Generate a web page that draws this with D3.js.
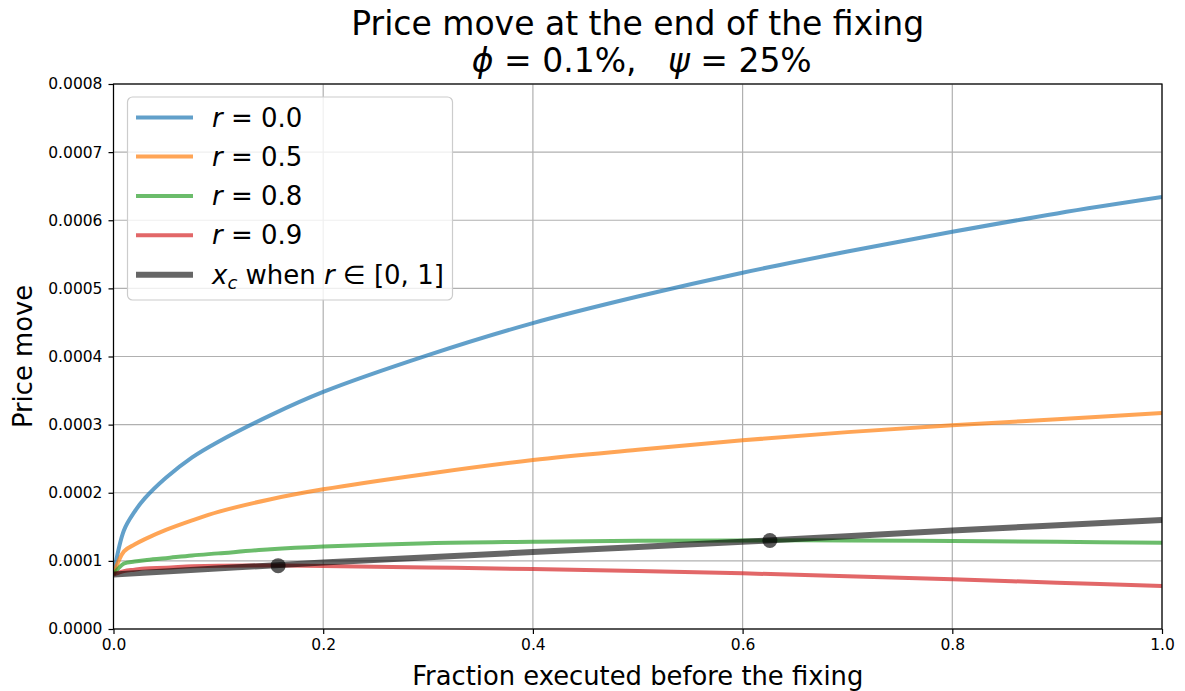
<!DOCTYPE html>
<html>
<head>
<meta charset="utf-8">
<script src="https://cdn.jsdelivr.net/npm/d3@7"></script>
<style>
  html, body { margin: 0; padding: 0; background: #fff; }
  svg { display: block; font-family: "DejaVu Sans", sans-serif; }
  .pre { white-space: pre; }
</style>
</head>
<body>
<svg id="chart" width="1185" height="691"></svg>
<script>
// ---- data ----
const xs      = [0, 0.01, 0.02, 0.03, 0.05, 0.075, 0.1, 0.15, 0.2, 0.3, 0.4, 0.5, 0.6, 0.7, 0.8, 0.9, 1.0];
const r00     = [0.00008, 0.000145, 0.000172, 0.000192, 0.000222, 0.000252, 0.000275, 0.000314, 0.000348, 0.000402, 0.000449, 0.000488, 0.000523, 0.000554, 0.000583, 0.000610, 0.000634];
const r05     = [0.00008, 0.000114, 0.000124, 0.000132, 0.0001455, 0.0001595, 0.000172, 0.0001905, 0.000205, 0.000228, 0.000248, 0.000263, 0.000277, 0.000289, 0.000299, 0.000308, 0.000317];
const r08     = [0.00008, 0.000096, 0.000099, 0.000101, 0.000104, 0.000108, 0.000111, 0.000117, 0.000121, 0.000126, 0.000128, 0.0001295, 0.00013, 0.00013, 0.000129, 0.000128, 0.0001267];
const r09     = [0.00008, 0.000085, 0.000087, 0.000089, 0.00009, 0.000092, 0.000093, 0.0000932, 0.0000925, 0.0000903, 0.000088, 0.0000852, 0.0000817, 0.0000775, 0.000073, 0.000068, 0.0000631];
const xcX     = [0, 0.2, 0.4, 0.6, 0.8, 1.0];
const xcY     = [0.00008, 0.0000975, 0.000113, 0.000128, 0.0001445, 0.00016];
const dotX    = [0.157, 0.626];
const dotY    = [0.000093, 0.000130];
const xTicks  = [0, 0.2, 0.4, 0.6, 0.8, 1.0];
const yTicks  = [0, 0.0001, 0.0002, 0.0003, 0.0004, 0.0005, 0.0006, 0.0007, 0.0008];
const seriesLabels = ["0.0", "0.5", "0.8", "0.9"];
const seriesColors = ["#1f77b4", "#ff7f0e", "#2ca02c", "#d62728"];
const seriesData = [r00, r05, r08, r09];

// ---- layout ----
const L = 113.5, R = 1162, T = 84, B = 629;
const svg = d3.select("#chart");
const x = d3.scaleLinear().domain([0, 1]).range([L, R]);
const y = d3.scaleLinear().domain([0, 0.0008]).range([B, T]);

// grid
const grid = svg.append("g");
grid.selectAll("line.gx").data(xTicks).join("line")
  .attr("x1", d => x(d)).attr("x2", d => x(d)).attr("y1", T).attr("y2", B)
  .attr("stroke", "#b0b0b0").attr("stroke-width", 1.2);
grid.selectAll("line.gy").data(yTicks).join("line")
  .attr("y1", d => y(d)).attr("y2", d => y(d)).attr("x1", L).attr("x2", R)
  .attr("stroke", "#b0b0b0").attr("stroke-width", 1.2);

// clip
svg.append("clipPath").attr("id", "clip").append("rect")
  .attr("x", L).attr("y", T).attr("width", R - L).attr("height", B - T);
const plot = svg.append("g").attr("clip-path", "url(#clip)");

const line = d3.line().x(d => x(d[0])).y(d => y(d[1])).curve(d3.curveCatmullRom.alpha(0.5));

seriesData.forEach((s, i) => {
  plot.append("path")
    .datum(xs.map((xv, j) => [xv, s[j]]))
    .attr("d", line)
    .attr("fill", "none")
    .attr("stroke", seriesColors[i])
    .attr("stroke-opacity", 0.7)
    .attr("stroke-width", 4)
    .attr("stroke-linejoin", "round");
});
plot.append("path")
  .datum(xcX.map((xv, j) => [xv, xcY[j]]))
  .attr("d", line)
  .attr("fill", "none")
  .attr("stroke", "#000")
  .attr("stroke-opacity", 0.6)
  .attr("stroke-width", 6);
plot.selectAll("circle").data(dotX.map((d, i) => [d, dotY[i]])).join("circle")
  .attr("cx", d => x(d[0])).attr("cy", d => y(d[1])).attr("r", 7.5)
  .attr("fill", "#000").attr("fill-opacity", 0.65);

// axes
const xAxis = svg.append("g").attr("transform", `translate(0,${B})`)
  .call(d3.axisBottom(x).tickValues(xTicks).tickFormat(d3.format(".1f")).tickSize(5).tickPadding(5));
const yAxis = svg.append("g").attr("transform", `translate(${L},0)`)
  .call(d3.axisLeft(y).tickValues(yTicks).tickFormat(d3.format(".4f")).tickSize(5).tickPadding(6));
[xAxis, yAxis].forEach(a => {
  a.select(".domain").remove();
  a.selectAll(".tick line").attr("stroke", "#000").attr("stroke-width", 1.2);
  a.selectAll(".tick text").attr("font-size", 15.5).attr("font-family", "DejaVu Sans").attr("fill", "#000");
});

// frame
svg.append("rect").attr("x", L).attr("y", T).attr("width", R - L).attr("height", B - T)
  .attr("fill", "none").attr("stroke", "#000").attr("stroke-width", 1.2);

// labels
svg.append("text").attr("x", (L + R) / 2).attr("y", 685).attr("text-anchor", "middle")
  .attr("font-size", 25.8).text("Fraction executed before the fixing");
svg.append("text").attr("transform", `translate(32,${(T + B) / 2}) rotate(-90)`)
  .attr("text-anchor", "middle").attr("font-size", 25.8).text("Price move");

// title
svg.append("text").attr("x", (L + R) / 2).attr("y", 35).attr("text-anchor", "middle")
  .attr("font-size", 33).text("Price move at the end of the fixing");
const t2 = svg.append("text").attr("class", "pre").attr("x", (L + R) / 2 + 4).attr("y", 72)
  .attr("text-anchor", "middle").attr("font-size", 33);
t2.append("tspan").attr("font-style", "italic").text("ϕ");
t2.append("tspan").text(" = 0.1%,   ");
t2.append("tspan").attr("font-style", "italic").text("ψ");
t2.append("tspan").text(" = 25%");

// legend
const lg = svg.append("g");
lg.append("rect").attr("x", 127.5).attr("y", 97).attr("width", 325).attr("height", 203)
  .attr("rx", 5).attr("fill", "#fff").attr("fill-opacity", 0.8)
  .attr("stroke", "#cccccc").attr("stroke-width", 1.2);
const rowY = [117.5, 156.5, 196, 235.3, 274.7];
seriesLabels.forEach((lab, i) => {
  lg.append("line").attr("x1", 136).attr("x2", 193).attr("y1", rowY[i]).attr("y2", rowY[i])
    .attr("stroke", seriesColors[i]).attr("stroke-opacity", 0.7).attr("stroke-width", 4);
  const t = lg.append("text").attr("class", "pre").attr("x", 212).attr("y", rowY[i] + 9).attr("font-size", 26);
  t.append("tspan").attr("font-style", "italic").text("r");
  t.append("tspan").text(" = " + lab);
});
lg.append("line").attr("x1", 136).attr("x2", 193).attr("y1", rowY[4]).attr("y2", rowY[4])
  .attr("stroke", "#000").attr("stroke-opacity", 0.6).attr("stroke-width", 6);
const tx = lg.append("text").attr("class", "pre").attr("x", 212).attr("y", rowY[4] + 9).attr("font-size", 26);
tx.append("tspan").attr("font-style", "italic").text("x");
tx.append("tspan").attr("font-style", "italic").attr("font-size", 18).attr("dy", 5).text("c");
tx.append("tspan").attr("dy", -5).text(" when ");
tx.append("tspan").attr("font-style", "italic").text("r");
tx.append("tspan").text(" ∈ [0, 1]");
</script>
</body>
</html>
